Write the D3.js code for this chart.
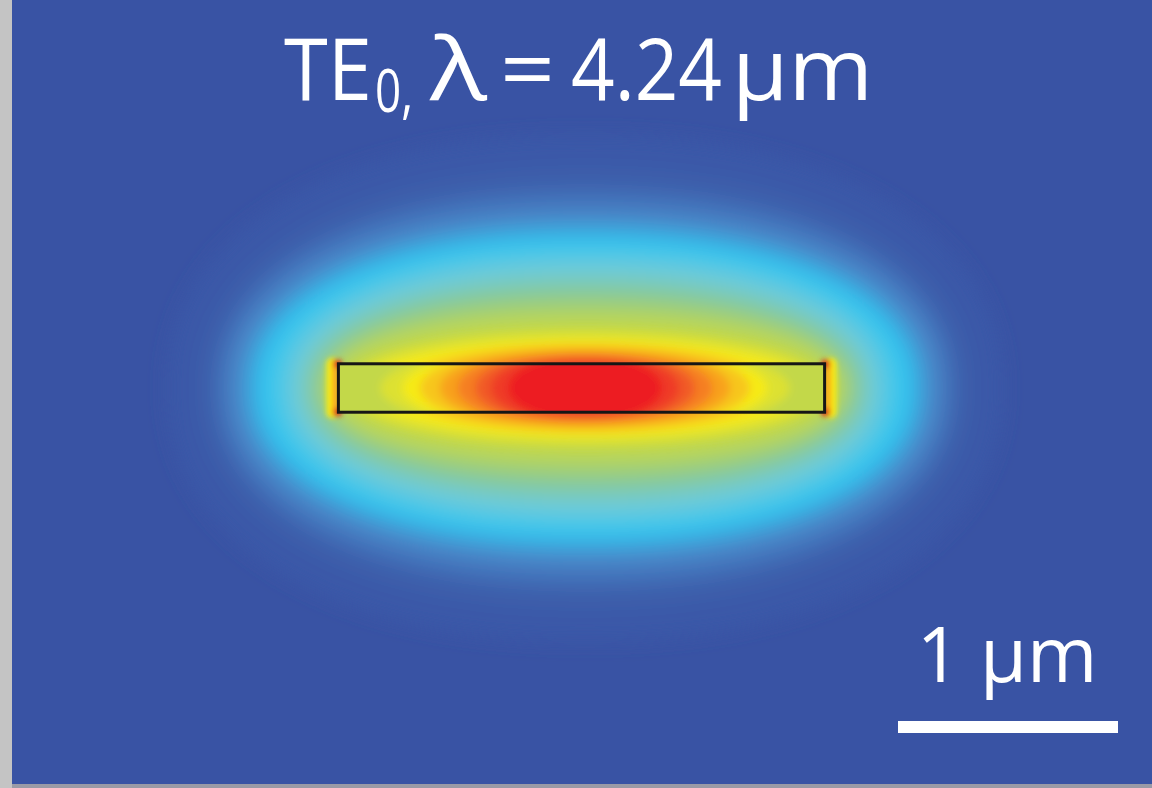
<!DOCTYPE html>
<html>
<head>
<meta charset="utf-8">
<script src="https://cdn.jsdelivr.net/npm/d3@7"></script>
<style>
  html, body { margin: 0; padding: 0; background: #ffffff; }
  svg { display: block; }
</style>
</head>
<body>
<div id="chart"></div>
<script>
// ---- values (lengths in µm, field levels normalised 0..1) ----
const waveguideWidth = 2.21;
const waveguideHeight = 0.22;
const fieldCenterX = 0.016;

// colour map of the mode plot
const colorLevels = [0, 0.1, 0.2, 0.3, 0.4, 0.5, 0.6, 0.7, 0.8, 0.9, 1.0];
const colorStops = ["#3953a4", "#3c5eab", "#4a86c8", "#2ec4f0", "#6ccadb", "#8cc98e",
                    "#c3d84a", "#f6ea17", "#f8a11c", "#f15a26", "#ed1c24"];

// contours in the cladding (outside the silicon); roundness = superellipse exponent
const cladLevels     = [0.05, 0.1, 0.15, 0.2, 0.25, 0.3, 0.35, 0.4, 0.45, 0.5, 0.55, 0.6];
const cladHalfWidth  = [1.90, 1.76, 1.68, 1.62, 1.55, 1.49, 1.42, 1.35, 1.29, 1.24, 1.20, 1.16];
const cladHalfHeight = [1.15, 1.00, 0.90, 0.82, 0.75, 0.69, 0.64, 0.58, 0.51, 0.445, 0.39, 0.32];
const cladRoundness  = [2.2, 2.2, 2.2, 2.2, 2.2, 2.2, 2.2, 2.2, 2.2, 2.2, 2.2, 2.2];

// contours close to the top and bottom faces
const nearLevels     = [0.65, 0.7, 0.75, 0.8, 0.85, 0.9, 0.95];
const nearHalfWidth  = [1.09, 1.03, 0.86, 0.72, 0.60, 0.50, 0.40];
const nearHalfHeight = [0.26, 0.22, 0.20, 0.175, 0.155, 0.14, 0.125];
const nearRoundness  = [2.1, 2.0, 2.0, 2.0, 2.0, 2.0, 2.0];

// contours inside the waveguide core
const coreBaseLevel  = 0.6;
const coreLevels     = [0.65, 0.7, 0.75, 0.8, 0.85, 0.9, 0.95, 1.0];
const coreHalfWidth  = [0.93, 0.83, 0.75, 0.66, 0.58, 0.50, 0.43, 0.35];
const coreHalfHeight = [0.21, 0.20, 0.20, 0.19, 0.18, 0.17, 0.16, 0.15];
const coreRoundness  = [2, 2, 2, 2, 2, 2, 2, 2];

const titleParts = ["TE", "0,", "λ", "=", "4.24", "µm"];
const scaleBarLength = 1; // µm
const scaleBarLabel = "1 µm";

// ----------------------------------------------------------------------------------
const width = 1152, height = 788;

const x = d3.scaleLinear().domain([-1, 1]).range([361.5, 801.5]);
const y = d3.scaleLinear().domain([-1, 1]).range([608, 168]);
const color = d3.scaleLinear().domain(colorLevels).range(colorStops).interpolate(d3.interpolateRgb);

const svg = d3.select("#chart").append("svg")
    .attr("width", width)
    .attr("height", height);

const defs = svg.append("defs");

function blurFilter(id, sd) {
    defs.append("filter")
        .attr("id", id)
        .attr("x", "-50%").attr("y", "-50%")
        .attr("width", "200%").attr("height", "200%")
      .append("feGaussianBlur")
        .attr("stdDeviation", sd);
}
blurFilter("blurOuter", 9);
blurFilter("blurNear", 5);
blurFilter("blurCore", 4);
blurFilter("blurSpot", 2.5);
blurFilter("blurLine", 0.6);

const wgX0 = x(-waveguideWidth / 2), wgX1 = x(waveguideWidth / 2);
const wgY0 = y(waveguideHeight / 2), wgY1 = y(-waveguideHeight / 2);

defs.append("clipPath").attr("id", "coreClip")
  .append("rect")
    .attr("x", wgX0).attr("y", wgY0)
    .attr("width", wgX1 - wgX0).attr("height", wgY1 - wgY0);

// background
svg.append("rect")
    .attr("width", width).attr("height", height)
    .attr("fill", colorStops[0]);

function contours(levels, hw, hh, n) {
    return levels.map((l, i) => ({level: l, hw: hw[i], hh: hh[i], n: n[i]}));
}

// closed superellipse outline of one contour, in µm, mapped through the scales
const outline = d3.line()
    .x(p => x(p[0]))
    .y(p => y(p[1]))
    .curve(d3.curveLinearClosed);
const angles = d3.range(0, 2 * Math.PI, Math.PI / 90);

function contourPath(d) {
    const e = 2 / d.n;
    return outline(angles.map(t => {
        const c = Math.cos(t), s = Math.sin(t);
        return [fieldCenterX + d.hw * Math.sign(c) * Math.pow(Math.abs(c), e),
                d.hh * Math.sign(s) * Math.pow(Math.abs(s), e)];
    }));
}

function drawContours(g, data) {
    g.selectAll("path")
        .data(data)
        .join("path")
        .attr("d", contourPath)
        .attr("fill", d => color(d.level));
}

drawContours(svg.append("g").attr("filter", "url(#blurOuter)"),
    contours(cladLevels, cladHalfWidth, cladHalfHeight, cladRoundness));

drawContours(svg.append("g").attr("filter", "url(#blurNear)"),
    contours(nearLevels, nearHalfWidth, nearHalfHeight, nearRoundness));

// bright field spots just outside the two vertical faces
const spots = svg.append("g").attr("filter", "url(#blurSpot)");
[-1, 1].forEach(side => {
    const ex = x(side * waveguideWidth / 2);
    spots.append("rect")
        .attr("x", side < 0 ? ex - 12 : ex)
        .attr("y", wgY0 - 6)
        .attr("width", 12)
        .attr("height", wgY1 - wgY0 + 12)
        .attr("rx", 6)
        .attr("fill", color(0.7));
    spots.append("rect")
        .attr("x", side < 0 ? ex - 6 : ex)
        .attr("y", wgY0 - 3)
        .attr("width", 6)
        .attr("height", wgY1 - wgY0 + 6)
        .attr("fill", color(0.8));
    [wgY0, wgY1].forEach(cy => {
        spots.append("circle")
            .attr("cx", ex + side * 1)
            .attr("cy", cy)
            .attr("r", 4.5)
            .attr("fill", "#d8351f");
    });
});

// field inside the core
const core = svg.append("g").attr("clip-path", "url(#coreClip)")
  .append("g").attr("filter", "url(#blurCore)");
core.append("rect")
    .attr("x", wgX0 - 20).attr("y", wgY0 - 20)
    .attr("width", wgX1 - wgX0 + 40).attr("height", wgY1 - wgY0 + 40)
    .attr("fill", color(coreBaseLevel));
drawContours(core, contours(coreLevels, coreHalfWidth, coreHalfHeight, coreRoundness));

// waveguide outline
svg.append("rect")
    .attr("x", wgX0).attr("y", wgY0)
    .attr("width", wgX1 - wgX0).attr("height", wgY1 - wgY0)
    .attr("fill", "none")
    .attr("stroke", "#151515")
    .attr("stroke-width", 3)
    .attr("filter", "url(#blurLine)");

// frame remnants of the original figure
svg.append("rect").attr("x", 0).attr("y", 0).attr("width", 12).attr("height", height).attr("fill", "#c4c4c4");
svg.append("rect").attr("x", 12).attr("y", 784).attr("width", width - 12).attr("height", 4).attr("fill", "#9a9aa6");

// title: each piece placed and fitted to its width in the figure
const font = "'Open Sans', 'Noto Sans', sans-serif";
const titleLayout = [
    {x: 284, y: 100, w: 88,  size: 86},
    {x: 375, y: 112, w: 38,  size: 60},
    {x: 430, y: 100, w: 57,  size: 86},
    {x: 500, y: 100, w: 55,  size: 86},
    {x: 571, y: 100, w: 151, size: 86},
    {x: 732, y: 100, w: 141, size: 86}
];
svg.append("g")
    .selectAll("text")
    .data(titleParts)
    .join("text")
    .attr("x", (d, i) => titleLayout[i].x)
    .attr("y", (d, i) => titleLayout[i].y)
    .attr("textLength", (d, i) => titleLayout[i].w)
    .attr("lengthAdjust", "spacingAndGlyphs")
    .attr("font-size", (d, i) => titleLayout[i].size)
    .attr("font-family", font)
    .attr("fill", "#ffffff")
    .text(d => d);

// scale bar
const barRight = 1118;
const barLeft = barRight - (x(scaleBarLength) - x(0));
svg.append("rect")
    .attr("x", barLeft).attr("y", 721)
    .attr("width", barRight - barLeft).attr("height", 12)
    .attr("fill", "#ffffff");
svg.append("text")
    .attr("x", (barLeft + barRight) / 2 - 1)
    .attr("y", 682)
    .attr("text-anchor", "middle")
    .attr("fill", "#ffffff")
    .attr("font-family", font)
    .attr("font-size", 76)
    .text(scaleBarLabel);
</script>
</body>
</html>
